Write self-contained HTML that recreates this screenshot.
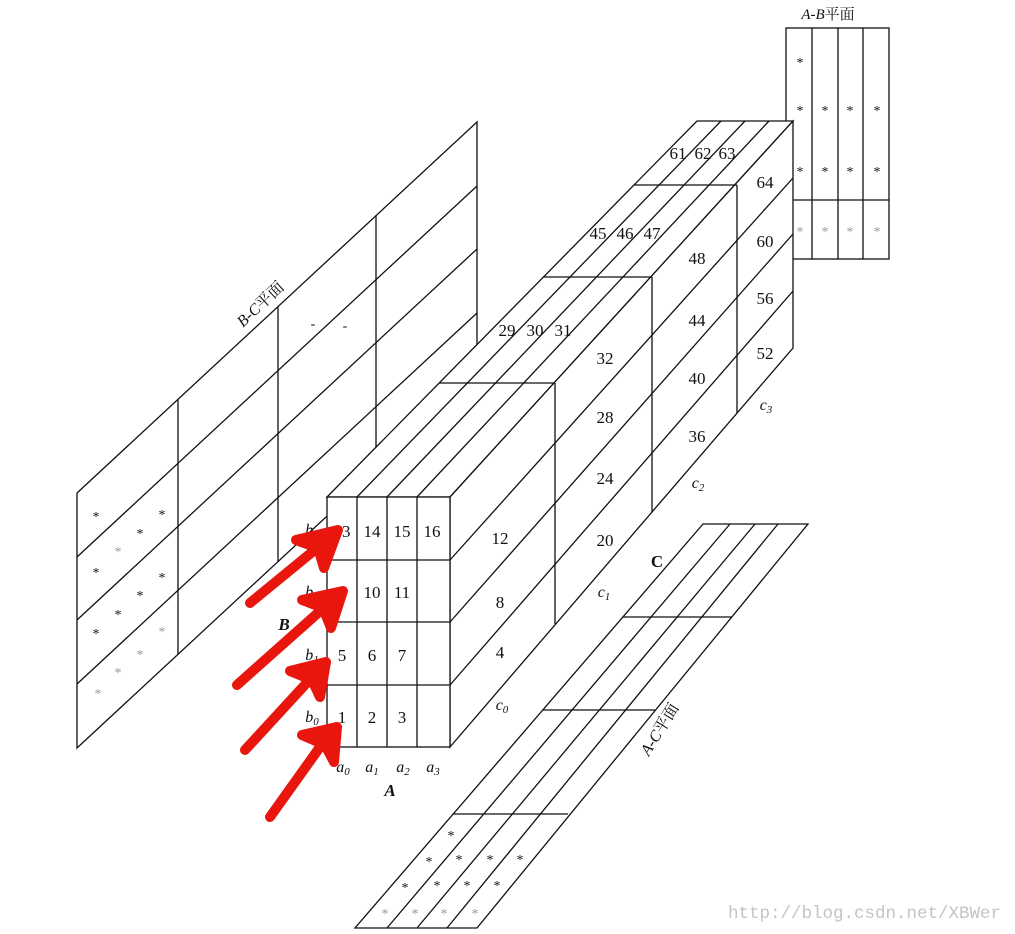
<!DOCTYPE html>
<html><head><meta charset="utf-8"><style>
html,body{margin:0;padding:0;background:#fff;}
svg{display:block;}
text{font-family:"Liberation Serif","Noto Serif CJK SC",serif;fill:#111;}
.n{font-size:17px;text-anchor:middle;}
.i{font-style:italic;font-size:16px;text-anchor:middle;}
.s{font-size:14px;text-anchor:middle;}
text.g{fill:#999;}
text.wm{font-family:"Liberation Mono",monospace;fill:#c4c4c4;font-size:17.5px;}
</style></head><body>
<svg width="1015" height="934" viewBox="0 0 1015 934" xmlns="http://www.w3.org/2000/svg">
<g stroke="#111" stroke-width="1.3" fill="none">
<polygon points="77,493 477,122 477,377 77,748" fill="#fff"/>
<line x1="77" y1="557" x2="477" y2="186"/>
<line x1="77" y1="620" x2="477" y2="249"/>
<line x1="77" y1="684" x2="477" y2="313"/>
<line x1="178" y1="399" x2="178" y2="654"/>
<line x1="278" y1="307" x2="278" y2="562"/>
<line x1="376" y1="215" x2="376" y2="470"/>
<rect x="786" y="28" width="103" height="231" fill="#fff"/>
<line x1="812" y1="28" x2="812" y2="259"/>
<line x1="838" y1="28" x2="838" y2="259"/>
<line x1="863" y1="28" x2="863" y2="259"/>
<line x1="786" y1="200" x2="889" y2="200"/>
<polygon points="327,497 697,121 793,121 450,497" fill="#fff"/>
<polygon points="450,497 793,121 793,348 450,747" fill="#fff"/>
<rect x="327" y="497" width="123" height="250" fill="#fff"/>
<line x1="357" y1="497" x2="721" y2="121"/>
<line x1="387" y1="497" x2="745" y2="121"/>
<line x1="417" y1="497" x2="769" y2="121"/>
<line x1="450" y1="560" x2="793" y2="178"/>
<line x1="450" y1="622" x2="793" y2="234"/>
<line x1="450" y1="685" x2="793" y2="291"/>
<line x1="357" y1="497" x2="357" y2="747"/>
<line x1="387" y1="497" x2="387" y2="747"/>
<line x1="417" y1="497" x2="417" y2="747"/>
<line x1="327" y1="560" x2="450" y2="560"/>
<line x1="327" y1="622" x2="450" y2="622"/>
<line x1="327" y1="685" x2="450" y2="685"/>
<line x1="439" y1="383" x2="555" y2="383"/>
<line x1="555" y1="383" x2="555" y2="624"/>
<line x1="543" y1="277" x2="652" y2="277"/>
<line x1="652" y1="277" x2="652" y2="512"/>
<line x1="634" y1="185" x2="737" y2="185"/>
<line x1="737" y1="185" x2="737" y2="413"/>
<polygon points="703,524 808,524 477,928 355,928" fill="#fff"/>
<line x1="730" y1="524" x2="387" y2="928"/>
<line x1="755" y1="524" x2="417" y2="928"/>
<line x1="778" y1="524" x2="447" y2="928"/>
<line x1="623" y1="617" x2="732" y2="617"/>
<line x1="543" y1="710" x2="655" y2="710"/>
<line x1="453" y1="814" x2="568" y2="814"/>
</g>
<text class="n" x="342" y="537">13</text><text class="n" x="372" y="537">14</text><text class="n" x="402" y="537">15</text><text class="n" x="432" y="537">16</text>
<text class="n" x="342" y="598">9</text><text class="n" x="372" y="598">10</text><text class="n" x="402" y="598">11</text>
<text class="n" x="342" y="661">5</text><text class="n" x="372" y="661">6</text><text class="n" x="402" y="661">7</text>
<text class="n" x="342" y="723">1</text><text class="n" x="372" y="723">2</text><text class="n" x="402" y="723">3</text>
<text class="n" x="500" y="544">12</text><text class="n" x="500" y="608">8</text><text class="n" x="500" y="658">4</text><text class="i" x="502" y="710">c<tspan font-size="11" dy="3">0</tspan></text>
<text class="n" x="605" y="546">20</text><text class="n" x="605" y="484">24</text><text class="n" x="605" y="423">28</text><text class="n" x="605" y="364">32</text><text class="i" x="604" y="597">c<tspan font-size="11" dy="3">1</tspan></text>
<text class="n" x="697" y="442">36</text><text class="n" x="697" y="384">40</text><text class="n" x="697" y="326">44</text><text class="n" x="697" y="264">48</text><text class="i" x="698" y="488">c<tspan font-size="11" dy="3">2</tspan></text>
<text class="n" x="765" y="359">52</text><text class="n" x="765" y="304">56</text><text class="n" x="765" y="247">60</text><text class="n" x="765" y="188">64</text><text class="i" x="766" y="410">c<tspan font-size="11" dy="3">3</tspan></text>
<text class="n" x="507" y="336">29</text><text class="n" x="535" y="336">30</text><text class="n" x="563" y="336">31</text>
<text class="n" x="598" y="239">45</text><text class="n" x="625" y="239">46</text><text class="n" x="652" y="239">47</text>
<text class="n" x="678" y="159">61</text><text class="n" x="703" y="159">62</text><text class="n" x="727" y="159">63</text>
<text class="i" x="312" y="722">b<tspan font-size="11" dy="3">0</tspan></text>
<text class="i" x="312" y="660">b<tspan font-size="11" dy="3">1</tspan></text>
<text class="i" x="312" y="597">b<tspan font-size="11" dy="3">2</tspan></text>
<text class="i" x="312" y="535">b<tspan font-size="11" dy="3">3</tspan></text>
<text x="284" y="630" font-size="17" font-weight="bold" font-style="italic" text-anchor="middle">B</text>
<text class="i" x="343" y="772">a<tspan font-size="11" dy="3">0</tspan></text>
<text class="i" x="372" y="772">a<tspan font-size="11" dy="3">1</tspan></text>
<text class="i" x="403" y="772">a<tspan font-size="11" dy="3">2</tspan></text>
<text class="i" x="433" y="772">a<tspan font-size="11" dy="3">3</tspan></text>
<text x="390" y="796" font-size="17" font-weight="bold" font-style="italic" text-anchor="middle">A</text>
<text x="657" y="567" font-size="17" font-weight="bold" text-anchor="middle">C</text>
<text x="828" y="19" font-size="15" text-anchor="middle"><tspan font-style="italic">A-B</tspan>平面</text>
<text x="0" y="0" font-size="16" text-anchor="middle" transform="translate(264,308) rotate(-43)"><tspan font-style="italic">B-C</tspan>平面</text>
<text x="0" y="0" font-size="16" text-anchor="middle" transform="translate(664,732) rotate(-58)"><tspan font-style="italic">A-C</tspan>平面</text>
<text class="s" x="313" y="328">-</text><text class="s" x="345" y="330">-</text>
<text class="s" x="96" y="521">*</text><text class="s" x="162" y="519">*</text><text class="s" x="140" y="538">*</text><text class="s g" x="118" y="556">*</text>
<text class="s" x="96" y="577">*</text><text class="s" x="162" y="582">*</text><text class="s" x="140" y="600">*</text><text class="s" x="118" y="619">*</text>
<text class="s" x="96" y="638">*</text><text class="s g" x="162" y="636">*</text><text class="s g" x="140" y="659">*</text><text class="s g" x="118" y="677">*</text>
<text class="s g" x="98" y="698">*</text>
<text class="s" x="800" y="67">*</text>
<text class="s" x="800" y="115">*</text><text class="s" x="825" y="115">*</text><text class="s" x="850" y="115">*</text><text class="s" x="877" y="115">*</text>
<text class="s" x="800" y="176">*</text><text class="s" x="825" y="176">*</text><text class="s" x="850" y="176">*</text><text class="s" x="877" y="176">*</text>
<text class="s g" x="800" y="236">*</text><text class="s g" x="825" y="236">*</text><text class="s g" x="850" y="236">*</text><text class="s g" x="877" y="236">*</text>
<text class="s" x="451" y="840">*</text>
<text class="s" x="429" y="866">*</text><text class="s" x="459" y="864">*</text><text class="s" x="490" y="864">*</text><text class="s" x="520" y="864">*</text>
<text class="s" x="405" y="892">*</text><text class="s" x="437" y="890">*</text><text class="s" x="467" y="890">*</text><text class="s" x="497" y="890">*</text>
<text class="s g" x="385" y="918">*</text><text class="s g" x="415" y="918">*</text><text class="s g" x="444" y="918">*</text><text class="s g" x="475" y="918">*</text>
<g stroke="#e8160c" stroke-width="10" stroke-linecap="round" stroke-linejoin="round" fill="#e8160c">
<line x1="250" y1="603" x2="322" y2="544"/><polygon points="296,540 338,530 324,568 318,548"/>
<line x1="237" y1="685" x2="328" y2="604"/><polygon points="302,600 343,591 331,628 323,608"/>
<line x1="245" y1="750" x2="314" y2="675"/><polygon points="290,671 326,662 320,697 312,680"/>
<line x1="270" y1="817" x2="325" y2="740"/><polygon points="302,735 337,727 334,762 325,745"/>
</g>
<text class="wm" x="728" y="918">http://blog.csdn.net/XBWer</text>
</svg>
</body></html>
